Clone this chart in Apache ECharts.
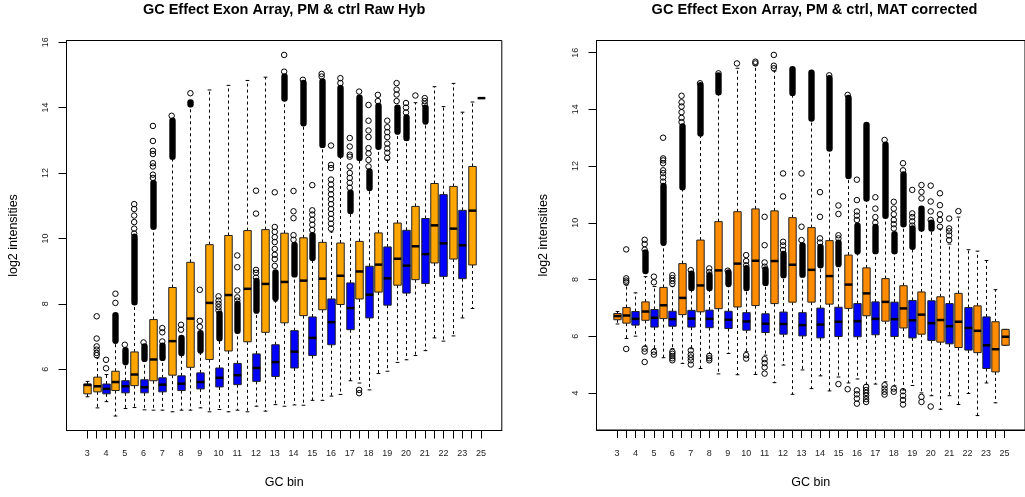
<!DOCTYPE html>
<html>
<head>
<meta charset="utf-8">
<script src="https://cdn.jsdelivr.net/npm/echarts@6/dist/echarts.min.js"></script>
<style>
  html, body { margin: 0; padding: 0; background: #fff; }
  #chart { width: 1025px; height: 497px; }
</style>
</head>
<body>
<div id="chart"></div>
<script>
// GC bin of each box, left to right (PM and control probes interleaved)
const gcBins = ['3','4','4','5','5','6','6','7','7','8','8','9','9','10','10','11','11','12','12','13','13',
  '14','14','15','15','16','16','17','17','18','18','19','19','20','20','21','21','22','22','23','23','24','25'];
const probeType = ['PM','PM','ctrl','PM','ctrl','PM','ctrl','PM','ctrl','PM','ctrl','PM','ctrl','PM','ctrl',
  'PM','ctrl','PM','ctrl','PM','ctrl','PM','ctrl','PM','ctrl','PM','ctrl','PM','ctrl','PM','ctrl','PM','ctrl',
  'PM','ctrl','PM','ctrl','PM','ctrl','PM','ctrl','PM','PM'];

// ---- Raw hybridisation intensities (log2) ----
const rawLow  = [5.16,4.82,5.01,4.57,4.80,4.83,4.76,4.75,4.75,4.70,4.75,4.75,4.82,4.70,4.77,4.70,4.75,4.70,4.87,4.72,4.92,4.87,4.91,4.90,5.05,5.05,5.18,5.23,5.65,5.58,5.37,5.87,5.94,6.21,6.29,6.42,6.57,6.96,6.86,7.02,7.57,7.86,14.29];
const rawQ1   = [5.25,5.31,5.25,5.35,5.28,5.50,5.28,5.65,5.31,5.82,5.35,6.06,5.40,6.30,5.46,6.56,5.53,6.84,5.63,7.13,5.78,7.42,6.04,7.64,6.42,7.82,6.75,7.98,7.21,8.15,7.57,8.36,7.96,8.57,8.33,8.74,8.62,9.25,8.84,9.37,8.77,9.19,14.29];
const rawMed  = [5.52,5.48,5.40,5.61,5.48,5.84,5.45,6.30,5.53,6.86,5.56,7.55,5.61,8.03,5.74,8.27,5.82,8.46,6.04,8.61,6.22,8.67,6.54,8.71,6.96,8.77,7.44,8.86,7.87,8.99,8.28,9.20,8.78,9.38,9.17,9.76,9.52,10.40,9.85,10.30,9.79,10.85,14.29];
const rawQ3   = [5.55,5.76,5.55,5.94,5.65,6.53,5.68,7.52,5.74,8.50,5.80,9.27,5.89,9.81,6.04,10.09,6.18,10.24,6.47,10.27,6.75,10.16,7.18,10.02,7.60,9.88,8.15,9.86,8.64,9.91,9.15,10.17,9.74,10.47,10.25,10.98,10.61,11.68,11.34,11.59,10.86,12.20,14.29];
const rawHigh = [5.63,6.35,5.84,6.80,6.14,7.98,6.24,10.30,6.27,12.44,6.43,14.03,6.50,14.54,6.88,14.68,7.11,14.83,7.72,14.93,8.08,14.22,8.84,13.45,9.35,12.80,10.20,12.50,10.78,12.40,11.50,12.75,12.40,13.20,13.00,14.15,13.50,14.64,14.03,14.74,13.86,14.17,14.29];
const rawOutliers = [
  [], [6.43,6.50,6.60,6.70,6.94,7.62], [6.03,6.29], [8.03,8.31], [6.75],
  [10.15,10.3,10.5,10.7,10.9,11.05], [6.82], [11.85,11.95,12.2,12.3,12.58,12.68,12.98,13.44], [6.85,7.13,7.26], [13.75],
  [7.21,7.36], [14.44], [7.30,7.48,8.43], [], [7.8,7.9,8.0,8.1,8.23],
  [], [8.1,8.2,8.41,9.12,9.48], [], [8.8,8.95,9.04,10.76,11.46], [],
  [9.16,9.37,9.5,9.68,9.89,10.04,10.2,10.35,11.41], [15.1,15.61], [9.96,10.1,10.62,10.83,11.45], [14.85], [10.26,10.42,10.57,10.73,10.86,11.63],
  [14.95,15.03], [10.3,10.45,10.6,10.75,10.9,11.05,11.2,11.35,11.5,11.65,11.8,12.15,12.25,12.84], [14.75,14.9], [11.55,11.7,11.85,12.0,12.2,12.5,12.56,12.81,13.07], [14.49,5.37,5.27],
  [12.2,12.4,12.6,12.76,13.1,13.3,13.6,14.08], [14.2,14.39], [12.46,12.62,12.75,12.9,13.1,13.25,13.4,13.6], [14.2,14.4,14.55,14.75], [13.85,14.0,14.14],
  [14.37], [14.1,14.2,14.29], [], [], [], [], [], []
];
// runs of outliers packed so tightly that they merge into a solid column [from, to]
const rawDense = [
  null, null, null, [6.88,7.65], [6.22,6.58], [8.05,10.05], [6.32,6.70], [10.36,11.7], [6.35,6.72], [12.5,13.6],
  [6.50,6.96], [14.1,14.16], [6.58,7.1], null, [6.95,7.7], null, [7.18,8.0], null, [7.8,8.7], null,
  [8.18,8.96], [14.28,14.95], [8.9,9.8], [13.52,14.75], [9.4,10.1], [12.86,14.8], null, [12.56,14.6], [10.84,11.4], [12.46,14.3],
  [11.54,12.05], [12.8,14.05], null, [13.27,14.0], [13.07,13.7], null, [13.58,14.0], null, null, null, null, null, null
];

// ---- MAT corrected intensities (log2) ----
const matLow  = [6.43,5.92,6.00,5.65,5.56,5.24,5.56,5.04,5.56,4.86,5.39,4.67,5.39,4.64,5.45,4.65,5.33,4.36,4.98,3.95,4.81,4.15,4.60,4.07,4.56,4.35,4.49,4.30,4.31,4.39,4.25,4.10,4.26,4.00,3.90,3.42,3.90,3.59,3.98,3.20,4.35,3.65,5.68];
const matQ1   = [6.58,6.46,6.39,6.56,6.32,6.62,6.35,6.76,6.32,6.86,6.30,6.97,6.27,7.03,6.21,7.08,6.13,7.15,6.07,7.20,6.01,7.20,5.94,7.13,5.99,6.98,5.98,6.72,6.05,6.53,5.99,6.29,5.94,6.07,5.85,5.79,5.73,5.60,5.51,5.42,4.86,4.74,5.68];
const matMed  = [6.71,6.73,6.61,6.87,6.65,7.09,6.60,7.35,6.62,7.79,6.61,8.32,6.58,8.56,6.52,8.66,6.44,8.65,6.43,8.52,6.39,8.34,6.41,8.12,6.51,7.82,6.53,7.51,6.61,7.21,6.60,6.98,6.56,6.76,6.46,6.57,6.35,6.51,6.29,6.19,5.68,5.54,5.98];
const matQ3   = [6.80,7.01,6.87,7.21,6.94,7.72,6.88,8.56,6.91,9.39,6.92,10.04,6.88,10.39,6.83,10.49,6.79,10.42,6.85,10.18,6.83,9.83,6.99,9.37,7.02,8.86,7.15,8.41,7.21,8.03,7.20,7.78,7.26,7.56,7.25,7.39,7.15,7.51,7.01,7.07,6.68,6.51,6.24];
const matHigh = [6.87,7.80,7.53,8.10,7.75,9.21,7.75,11.19,7.62,13.09,7.62,14.53,7.75,15.45,7.62,15.56,7.80,15.35,8.10,14.53,8.10,13.64,8.45,12.58,8.45,11.60,8.90,10.80,8.95,10.18,8.95,9.89,9.10,9.74,9.74,9.78,9.25,10.20,9.05,9.00,8.67,7.64,6.24];
const matOutliers = [
  [], [7.9,7.96,8.04,9.06,5.55], [], [9.05,9.25,9.4,5.56,5.46,5.09], [7.9,8.1,5.45,5.35],
  [11.45,11.6,11.75,11.85,12.1,12.2,12.27,13.0], [7.85,7.95,8.05,8.15,5.45,5.38,5.3,5.22,5.15], [13.55,13.7,13.9,14.1,14.25,14.48], [8.33,5.5,5.35,5.25,5.15,5.0], [14.92],
  [8.26,8.39,5.3,5.22,5.15], [15.27], [8.31], [15.62], [8.5,8.65,8.86,5.33,5.21],
  [15.62,15.68], [8.45,8.6,9.21,10.21,5.19,5.05,4.9,4.68], [15.45,15.54,15.92], [9.04,9.2,9.33,10.93,11.74], [],
  [9.39,9.86,11.74], [], [9.3,9.45,10.21,11.08], [15.2], [9.45,9.56,10.31,10.61,4.31],
  [14.51,4.13], [10.1,10.25,10.4,10.8,11.52,4.09,3.95,3.8,3.62], [4.21,4.1,4.0,3.9,3.78,3.68], [10.0,10.2,10.5,10.9], [12.92,4.27,4.15,4.04,3.94],
  [9.8,9.95,10.1,10.3,10.5,10.74,4.15,4.04], [11.85,12.1,4.06,3.9,3.75,3.59], [9.9,10.05,10.2,10.33,11.16], [10.86,11.09,11.33,3.86,3.68], [10.1,10.4,10.75,11.31,3.52],
  [9.86,10.1,10.3,10.62,11.04], [9.39,9.55,9.7,9.8,10.15], [10.41], [], [], [], [], []
];
const matDense = [
  null, null, null, [8.3,8.95], null, [9.3,11.3], null, [11.25,13.4], [7.7,8.2], [13.15,14.85],
  [7.7,8.15], [14.6,15.2], [7.85,8.25], null, [7.7,8.4], null, [7.88,8.35], null, [8.15,8.9], [14.58,15.42],
  [8.17,9.2], [13.68,15.29], [8.5,9.15], [12.62,15.1], [8.55,9.3], [11.65,14.4], [9.0,9.9], [10.86,13.45], [9.0,9.85], [10.25,12.75],
  [9.0,9.6], [9.95,11.7], [9.15,9.8], [9.8,10.5], [9.8,10.0], null, null, null, null, null, null, null, null
];

const FONT = '"Liberation Sans", Arial, Helvetica, sans-serif';

const panels = [
  { title: 'GC Effect Exon Array, PM & ctrl Raw Hyb', pm: '#FFA500', ctrl: '#0000FF',
    low: rawLow, q1: rawQ1, med: rawMed, q3: rawQ3, high: rawHigh, out: rawOutliers, dense: rawDense,
    grid: { left: 66.5, top: 40.5, width: 435.3, height: 390 } },
  { title: 'GC Effect Exon Array, PM & ctrl, MAT corrected', pm: '#FF8C00', ctrl: '#0000FF',
    low: matLow, q1: matQ1, med: matMed, q3: matQ3, high: matHigh, out: matOutliers, dense: matDense,
    grid: { left: 596.5, top: 40.5, width: 436, height: 389.5 } }
];

const nBox = gcBins.length;
const positions = gcBins.map((_, i) => i + 1);
// only every other bin name fits under the axis
const labelPositions = positions.filter((p, i) => i % 2 === 0);
const xPad = 0.04 * nBox;
const xRange = [0.5 - xPad, nBox + 0.5 + xPad];

function yRange(p) {
  const vals = [].concat(p.low, p.high, ...p.out, ...p.dense.filter(Boolean));
  const lo = Math.min(...vals), hi = Math.max(...vals), pad = (hi - lo) * 0.04;
  return [lo - pad, hi + pad];
}
function yTicks(range) {
  const t = [];
  for (let v = Math.ceil(range[0] / 2) * 2; v <= range[1]; v += 2) t.push(v);
  return t;
}

function boxRenderer(fillPM, fillCtrl) {
  return function (params, api) {
    const p = api.value(0);
    const top = api.coord([p, api.value(5)]);
    const q3 = api.coord([p, api.value(4)]);
    const md = api.coord([p, api.value(3)]);
    const q1 = api.coord([p, api.value(2)]);
    const bot = api.coord([p, api.value(1)]);
    const w = api.size([0.8, 0])[0];
    const x = Math.round(top[0]) + 0.5;
    const half = w / 2, cap = w / 4;
    const fill = api.value(6) === 1 ? fillCtrl : fillPM;
    const dashed = { stroke: '#000', lineWidth: 1, lineDash: [3, 3], fill: null };
    const solid = { stroke: '#000', lineWidth: 1, fill: null };
    return {
      type: 'group',
      children: [
        { type: 'line', shape: { x1: x, y1: q3[1], x2: x, y2: top[1] }, style: dashed },
        { type: 'line', shape: { x1: x, y1: q1[1], x2: x, y2: bot[1] }, style: dashed },
        { type: 'line', shape: { x1: x - cap, y1: top[1], x2: x + cap, y2: top[1] }, style: solid },
        { type: 'line', shape: { x1: x - cap, y1: bot[1], x2: x + cap, y2: bot[1] }, style: solid },
        { type: 'rect', shape: { x: x - half, y: q3[1], width: w, height: q1[1] - q3[1] },
          style: { fill: fill, stroke: '#222', lineWidth: 1 } },
        { type: 'line', shape: { x1: x - half, y1: md[1], x2: x + half, y2: md[1] },
          style: { stroke: '#000', lineWidth: 2.5, fill: null } }
      ]
    };
  };
}

function denseRenderer(params, api) {
  const p = api.value(0);
  const a = api.coord([p, api.value(2)]);
  const b = api.coord([p, api.value(1)]);
  const r = 3.2;
  const x = Math.round(a[0]) + 0.5;
  return {
    type: 'rect',
    shape: { x: x - r, y: a[1] - r, width: 2 * r, height: b[1] - a[1] + 2 * r, r: r },
    style: { fill: '#000' }
  };
}

const grids = [], xAxes = [], yAxes = [], series = [], graphics = [];

panels.forEach((pn, k) => {
  const yr = yRange(pn);
  const yt = yTicks(yr);
  grids.push(Object.assign({ show: true, borderColor: '#000', borderWidth: 1, backgroundColor: 'transparent' }, pn.grid));
  xAxes.push({
    gridIndex: k, type: 'value', min: xRange[0], max: xRange[1],
    axisLine: { show: true, onZero: false, lineStyle: { color: '#000', width: 1 } },
    axisTick: { show: true, length: 8, customValues: positions, lineStyle: { color: '#000', width: 1 } },
    axisLabel: { customValues: labelPositions, formatter: v => gcBins[Math.round(v) - 1],
      fontSize: 9, color: '#222', margin: 19, fontFamily: FONT },
    splitLine: { show: false },
    name: 'GC bin', nameLocation: 'middle', nameGap: 46,
    nameTextStyle: { fontSize: 12.5, color: '#000', fontFamily: FONT }
  });
  yAxes.push({
    gridIndex: k, type: 'value', min: yr[0], max: yr[1],
    axisLine: { show: true, onZero: false, lineStyle: { color: '#000', width: 1 } },
    axisTick: { show: true, length: 8, customValues: yt, lineStyle: { color: '#000', width: 1 } },
    axisLabel: { customValues: yt, rotate: 90, fontSize: 9, color: '#222', margin: 16, fontFamily: FONT },
    splitLine: { show: false },
    name: 'log2 intensities', nameLocation: 'middle', nameGap: 46, nameRotate: 90,
    nameTextStyle: { fontSize: 12.5, color: '#000', fontFamily: FONT }
  });

  const boxData = positions.map((p, i) => [p, pn.low[i], pn.q1[i], pn.med[i], pn.q3[i], pn.high[i],
    probeType[i] === 'ctrl' ? 1 : 0]);
  series.push({
    type: 'custom', xAxisIndex: k, yAxisIndex: k, silent: true,
    renderItem: boxRenderer(pn.pm, pn.ctrl),
    encode: { x: 0, y: [1, 5] },
    data: boxData
  });

  const denseData = [];
  pn.dense.forEach((d, i) => { if (d) denseData.push([positions[i], d[0], d[1]]); });
  series.push({
    type: 'custom', xAxisIndex: k, yAxisIndex: k, silent: true,
    renderItem: denseRenderer, encode: { x: 0, y: [1, 2] }, data: denseData
  });

  const outData = [];
  pn.out.forEach((vals, i) => vals.forEach(v => outData.push([positions[i], v])));
  series.push({
    type: 'scatter', xAxisIndex: k, yAxisIndex: k, silent: true,
    symbol: 'circle', symbolSize: 5.5,
    itemStyle: { color: 'rgba(0,0,0,0)', borderColor: '#000', borderWidth: 1, opacity: 1 },
    data: outData
  });

  graphics.push({
    type: 'text', x: pn.grid.left + pn.grid.width / 2, y: 10,
    style: { text: pn.title, textAlign: 'center', textVerticalAlign: 'middle',
      font: 'bold 14.5px ' + FONT, fill: '#000' }
  });
});

const chart = echarts.init(document.getElementById('chart'), null, { renderer: 'canvas' });
chart.setOption({
  animation: false,
  backgroundColor: '#fff',
  grid: grids,
  xAxis: xAxes,
  yAxis: yAxes,
  series: series,
  graphic: graphics
});
</script>
</body>
</html>
